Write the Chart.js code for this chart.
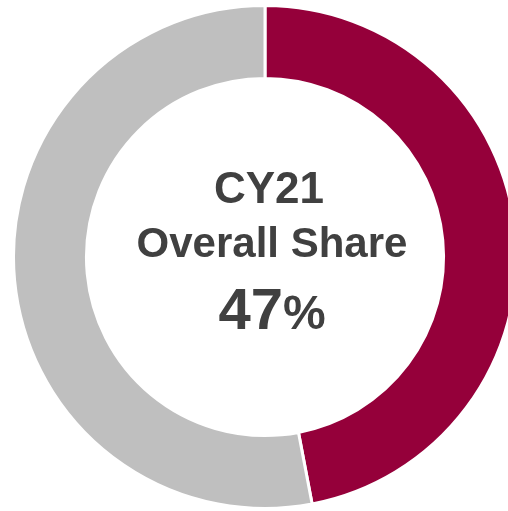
<!DOCTYPE html>
<html>
<head>
<meta charset="utf-8">
<script src="https://cdn.jsdelivr.net/npm/chart.js@4"></script>
<style>
    html, body { margin: 0; padding: 0; background: #fff; overflow: hidden; }
    #wrap { position: relative; width: 530px; height: 514px; }
    .label {
        position: absolute; left: 72px; width: 400px; text-align: center;
        font-family: 'Liberation Sans', Arial, sans-serif; font-weight: bold;
        color: #404040; white-space: nowrap; line-height: 1;
    }
</style>
</head>
<body>
<div id="wrap">
    <canvas id="grafico"></canvas>
    <div class="label" style="top:166px;font-size:44px;left:69px;">CY21</div>
    <div class="label" style="top:222px;font-size:42px;">Overall Share</div>
    <div class="label" style="top:280px;font-size:58px;">47<span style="font-size:48px;">%</span></div>
</div>
<script>
// Datos del gráfico
const categorias = ['CY21', 'Resto'];
const valores = [47, 53];
const colores = ['#95003a', '#bfbfbf'];

document.addEventListener("DOMContentLoaded", function() {
    const ctx = document.getElementById('grafico');
    new Chart(ctx, {
        type: 'doughnut',
        data: {
            labels: categorias,
            datasets: [{
                data: valores,
                backgroundColor: colores,
                borderColor: '#ffffff',
                borderWidth: 3
            }]
        },
        options: {
            responsive: true,
            maintainAspectRatio: false,
            animation: false,
            cutout: '71%',
            layout: { padding: 4 },
            plugins: {
                legend: { display: false },
                tooltip: { enabled: false }
            }
        }
    });
});
</script>
</body>
</html>
